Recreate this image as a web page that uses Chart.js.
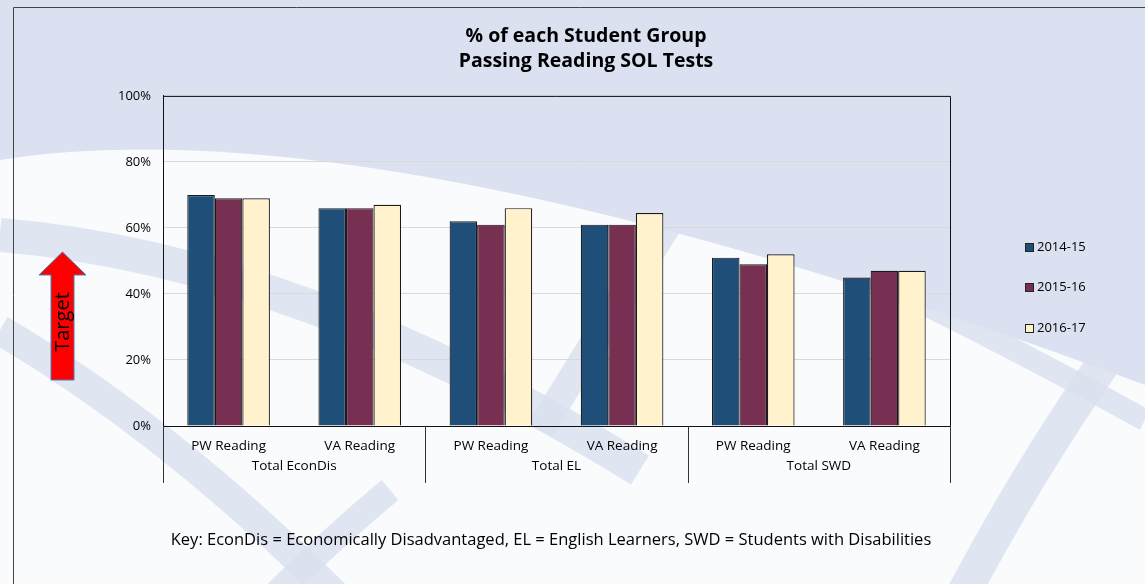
<!DOCTYPE html>
<html>
<head>
<meta charset="utf-8">
<script src="https://cdn.jsdelivr.net/npm/chart.js@4.4.0/dist/chart.umd.min.js"></script>
<style>
  html, body { margin: 0; padding: 0; background: #dbe1f0; }
  #wrap { width: 1145px; height: 584px; position: relative; }
</style>
</head>
<body>
<div id="wrap"><canvas id="myChart" width="1145" height="584"></canvas></div>
<script>
// chart data
const categories = ['PW Reading', 'VA Reading', 'PW Reading', 'VA Reading', 'PW Reading', 'VA Reading'];
const groups = ['Total EconDis', 'Total EL', 'Total SWD'];
const years = ['2014-15', '2015-16', '2016-17'];
const values2014 = [70, 66, 62, 61, 51, 45];
const values2015 = [69, 66, 61, 61, 49, 47];
const values2016 = [69, 67, 66, 64.5, 52, 47];
const yTicks = [0, 20, 40, 60, 80, 100];
const titleLines = ['% of each Student Group', 'Passing Reading SOL Tests'];
const keyText = 'Key: EconDis = Economically Disadvantaged, EL = English Learners, SWD = Students with Disabilities';

const FONT = "'Open Sans', 'Liberation Sans', sans-serif";
const colors = ['#1F4E79', '#772F52', '#FFF2CC'];

// slide background with the faint logo swooshes
const backgroundPlugin = {
    id: 'slideBackground',
    beforeDraw(chart) {
        const c = chart.ctx;
        c.save();
        c.fillStyle = '#dbe1f0';
        c.fillRect(0, 0, chart.width, chart.height);

        // big white swoosh
        c.fillStyle = 'rgba(255,255,255,0.85)';
        c.beginPath();
        c.moveTo(0, 160);
        c.quadraticCurveTo(380, 100, 1145, 385);
        c.lineTo(1145, 584);
        c.lineTo(0, 584);
        c.closePath();
        c.fill();

        // lavender stripes
        c.strokeStyle = 'rgba(218,224,240,0.85)';
        c.lineCap = 'butt';
        const stripe = (w, pts) => {
            c.lineWidth = w;
            c.beginPath();
            c.moveTo(pts[0], pts[1]);
            c.quadraticCurveTo(pts[2], pts[3], pts[4], pts[5]);
            c.stroke();
        };
        stripe(34, [0, 235, 300, 260, 640, 470]);
        stripe(30, [0, 330, 170, 430, 340, 600]);
        stripe(26, [390, 490, 330, 540, 270, 600]);
        stripe(28, [690, 190, 620, 300, 540, 430]);
        stripe(34, [1150, 300, 1050, 430, 960, 600]);
        stripe(22, [560, 150, 800, 230, 1145, 420]);
        c.restore();
    }
};

// frame lines, group separators, legend, key and the target arrow
const decorPlugin = {
    id: 'decor',
    afterDraw(chart) {
        const c = chart.ctx;
        const a = chart.chartArea;
        const x = chart.scales.x;
        c.save();

        // outer chart frame
        c.strokeStyle = '#444';
        c.lineWidth = 1;
        c.beginPath();
        c.moveTo(13.5, 584);
        c.lineTo(13.5, 7.5);
        c.lineTo(1145, 7.5);
        c.stroke();

        // plot box
        c.strokeStyle = '#111';
        c.beginPath();
        c.moveTo(a.left, a.top + 0.5);
        c.lineTo(a.right + 0.5, a.top + 0.5);
        c.lineTo(a.right + 0.5, a.bottom);
        c.stroke();

        // separators between the groups
        const bounds = [a.left, (x.getPixelForValue(1) + x.getPixelForValue(2)) / 2,
            (x.getPixelForValue(3) + x.getPixelForValue(4)) / 2, a.right];
        c.strokeStyle = '#333';
        bounds.forEach(b => {
            c.beginPath();
            c.moveTo(Math.round(b) + 0.5, a.bottom);
            c.lineTo(Math.round(b) + 0.5, 483);
            c.stroke();
        });

        // legend
        c.font = '13px ' + FONT;
        c.textBaseline = 'middle';
        c.textAlign = 'left';
        const legendY = [247, 287, 328];
        chart.data.datasets.forEach((ds, i) => {
            c.fillStyle = ds.backgroundColor;
            c.fillRect(1025, legendY[i] - 4, 8, 8);
            c.strokeStyle = '#222';
            c.strokeRect(1025.5, legendY[i] - 3.5, 8, 8);
            c.fillStyle = '#000';
            c.fillText(ds.label, 1037, legendY[i]);
        });

        // key line
        c.font = '16.5px ' + FONT;
        c.textAlign = 'center';
        c.fillText(keyText, 551, 540);

        // target arrow
        c.fillStyle = '#ff0000';
        c.strokeStyle = '#4a7ebb';
        c.beginPath();
        c.moveTo(62.5, 252);
        c.lineTo(86, 275);
        c.lineTo(74, 275);
        c.lineTo(74, 380);
        c.lineTo(51, 380);
        c.lineTo(51, 275);
        c.lineTo(39, 275);
        c.closePath();
        c.fill();
        c.stroke();
        c.translate(63, 322);
        c.rotate(-Math.PI / 2);
        c.fillStyle = '#000';
        c.font = '20px ' + FONT;
        c.fillText('Target', 0, 0);
        c.restore();
    }
};

const ctx = document.getElementById('myChart').getContext('2d');
const myChart = new Chart(ctx, {
    type: 'bar',
    data: {
        labels: categories,
        datasets: [
            { label: years[0], data: values2014, backgroundColor: colors[0] },
            { label: years[1], data: values2015, backgroundColor: colors[1] },
            { label: years[2], data: values2016, backgroundColor: colors[2] },
        ].map(ds => Object.assign(ds, {
            borderColor: '#1a1a1a',
            borderWidth: 1.2,
            categoryPercentage: 0.63,
            barPercentage: 1,
        })),
    },
    options: {
        responsive: false,
        animation: false,
        layout: { padding: { left: 27, right: 0, top: 0, bottom: 98 } },
        plugins: {
            legend: { display: false },
            tooltip: { enabled: false },
            title: {
                display: true,
                text: titleLines,
                color: '#000',
                font: { family: FONT, size: 19.5, weight: 'bold', lineHeight: 1.28 },
                padding: { top: 24, bottom: 22 },
            },
        },
        scales: {
            y: {
                min: 0,
                max: 100,
                afterFit: s => { s.width = 136; },
                afterBuildTicks: s => { s.ticks = yTicks.map(v => ({ value: v })); },
                ticks: {
                    color: '#000',
                    padding: 12,
                    font: { family: FONT, size: 13 },
                    callback: v => v + '%',
                },
                grid: { color: '#d9d9d9', drawTicks: false },
                border: { display: true, color: '#111' },
            },
            // empty axis that keeps the room for the legend on the right
            yRoom: {
                type: 'linear',
                position: 'right',
                afterFit: s => { s.width = 195; },
                ticks: { display: false },
                grid: { display: false, drawTicks: false },
                border: { display: false },
            },
            x: {
                weight: 0,
                afterFit: s => { s.height = 29; },
                ticks: { color: '#000', padding: 12, font: { family: FONT, size: 13.5 }, maxRotation: 0, autoSkip: false },
                grid: { display: false, drawTicks: false },
                border: { display: true, color: '#111' },
            },
            x2: {
                type: 'category',
                labels: groups,
                position: 'bottom',
                offset: true,
                weight: 1,
                afterFit: s => { s.height = 31; },
                ticks: { color: '#000', padding: 3, font: { family: FONT, size: 13.5 }, maxRotation: 0 },
                grid: { display: false, drawTicks: false },
                border: { display: false },
            },
        },
    },
    plugins: [backgroundPlugin, decorPlugin],
});
</script>
</body>
</html>
